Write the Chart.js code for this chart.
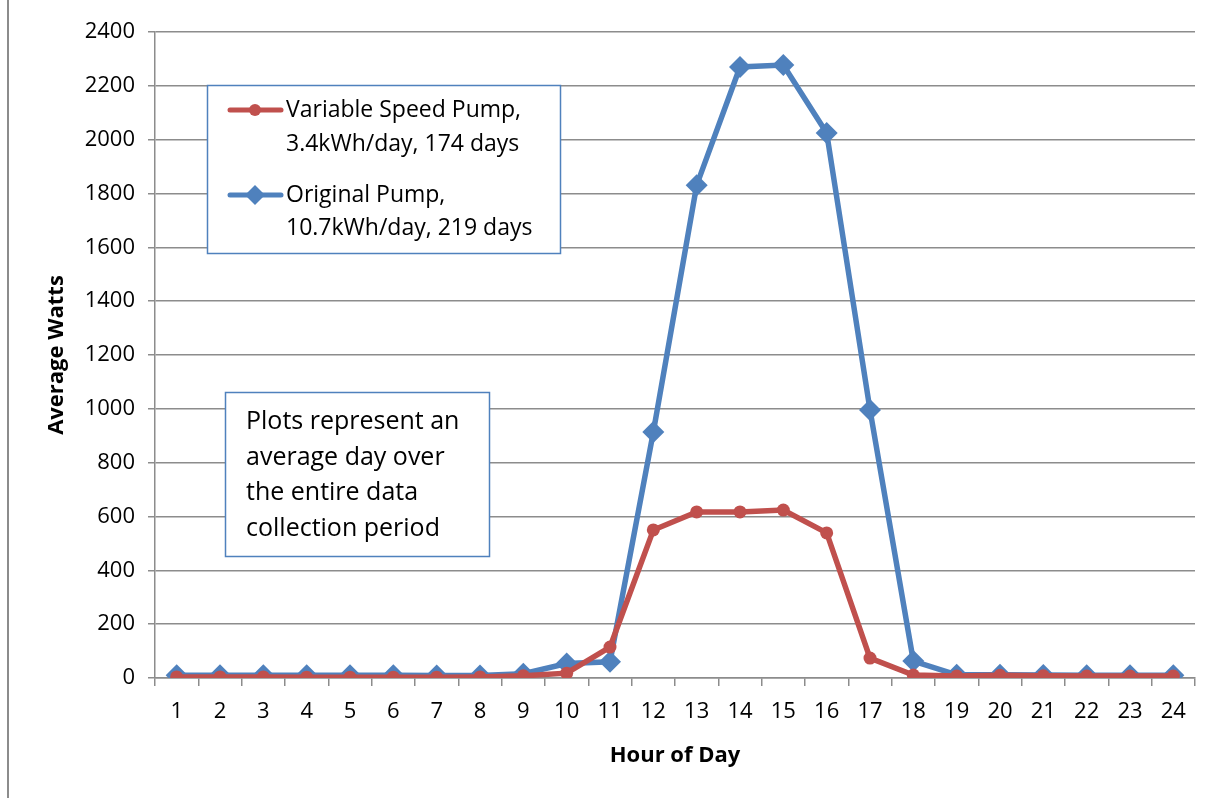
<!DOCTYPE html>
<html>
<head>
<meta charset="utf-8">
<script src="https://cdn.jsdelivr.net/npm/chart.js@4/dist/chart.umd.min.js"></script>
<style>
  html, body { margin: 0; padding: 0; background: #fff; }
  #wrap { position: relative; width: 1217px; height: 798px; }
  #frame { position: absolute; left: 7px; top: -2px; width: 1300px; height: 1000px; border: 2px solid #8c8c8c; box-sizing: border-box; pointer-events: none; }
</style>
</head>
<body>
<div id="wrap">
  <canvas id="bombas" width="1217" height="798"></canvas>
  <div id="frame"></div>
</div>
<script>
// Datos
const horas = ['1','2','3','4','5','6','7','8','9','10','11','12','13','14','15','16','17','18','19','20','21','22','23','24'];
const variableSpeed = [4, 4, 4, 3, 3, 3, 3, 4, 8, 18, 115, 550, 617, 617, 624, 539, 74, 11, 7, 10, 8, 7, 7, 7];
const originalPump = [10, 10, 10, 10, 10, 10, 9, 9, 16, 54, 60, 914, 1831, 2270, 2277, 2025, 996, 63, 12, 12, 11, 10, 10, 10];
const ticksY = [0, 200, 400, 600, 800, 1000, 1200, 1400, 1600, 1800, 2000, 2200, 2400];

const nombreVariable = ['Variable Speed Pump,', '3.4kWh/day, 174 days'];
const nombreOriginal = ['Original Pump,', '10.7kWh/day, 219 days'];
const notaTexto = ['Plots represent an', 'average day over', 'the entire data', 'collection period'];

const ROJO = '#C0504D';
const AZUL = '#4F81BD';
const FUENTE = '"Open Sans", "Noto Sans", sans-serif';

// Leyenda y nota dibujadas dentro del área del gráfico
const cajasPlugin = {
    id: 'cajas',
    afterDraw(chart) {
        const ctx = chart.ctx;
        ctx.save();
        // caja de leyenda
        ctx.fillStyle = '#fff';
        ctx.fillRect(207, 85, 353, 168);
        ctx.strokeStyle = AZUL;
        ctx.lineWidth = 1.5;
        ctx.strokeRect(207.5, 85.5, 353, 168);

        ctx.font = '23px ' + FUENTE;
        ctx.textBaseline = 'middle';

        // marcador rojo
        ctx.strokeStyle = ROJO;
        ctx.lineWidth = 5;
        ctx.lineCap = 'round';
        ctx.beginPath(); ctx.moveTo(230, 110); ctx.lineTo(281, 110); ctx.stroke();
        ctx.fillStyle = ROJO;
        ctx.beginPath(); ctx.arc(255, 110, 6, 0, Math.PI * 2); ctx.fill();

        // marcador azul
        ctx.strokeStyle = AZUL;
        ctx.beginPath(); ctx.moveTo(230, 195); ctx.lineTo(281, 195); ctx.stroke();
        ctx.fillStyle = AZUL;
        ctx.beginPath();
        ctx.moveTo(255, 185); ctx.lineTo(265, 195); ctx.lineTo(255, 205); ctx.lineTo(245, 195);
        ctx.closePath(); ctx.fill();

        ctx.fillStyle = '#000';
        ctx.fillText(nombreVariable[0], 286, 110);
        ctx.fillText(nombreVariable[1], 286, 144);
        ctx.fillText(nombreOriginal[0], 286, 195);
        ctx.fillText(nombreOriginal[1], 286, 228);

        // caja de nota
        ctx.fillStyle = '#fff';
        ctx.fillRect(225, 392, 264, 164);
        ctx.strokeStyle = AZUL;
        ctx.lineWidth = 1.5;
        ctx.strokeRect(225.5, 392.5, 264, 164);
        ctx.fillStyle = '#000';
        ctx.font = '25px ' + FUENTE;
        notaTexto.forEach(function(linea, i) {
            ctx.fillText(linea, 246, 422 + i * 35.5);
        });
        ctx.restore();
    }
};

document.addEventListener('DOMContentLoaded', function() {
    const ctx = document.getElementById('bombas').getContext('2d');
    new Chart(ctx, {
        type: 'line',
        data: {
            labels: horas,
            datasets: [{
                label: nombreVariable.join(' '),
                data: variableSpeed,
                borderColor: ROJO,
                backgroundColor: ROJO,
                borderWidth: 5.5,
                pointStyle: 'circle',
                pointRadius: 6.5,
                pointBorderWidth: 0,
                tension: 0
            }, {
                label: nombreOriginal.join(' '),
                data: originalPump,
                borderColor: AZUL,
                backgroundColor: AZUL,
                borderWidth: 5.5,
                pointStyle: 'rectRot',
                pointRadius: 11,
                pointBorderWidth: 0,
                tension: 0
            }]
        },
        options: {
            responsive: false,
            animation: false,
            layout: { padding: { top: 32, right: 22, left: 0, bottom: 0 } },
            plugins: {
                legend: { display: false },
                tooltip: { enabled: false }
            },
            scales: {
                x: {
                    offset: true,
                    afterFit: function(scale) { scale.height = 120; },
                    grid: {
                        offset: true,
                        drawOnChartArea: false,
                        drawTicks: true,
                        tickLength: 8,
                        color: '#8c8c8c',
                        lineWidth: 1.5
                    },
                    border: { color: '#8c8c8c', width: 1.5 },
                    ticks: {
                        color: '#000',
                        font: { family: FUENTE, size: 22 },
                        padding: 13,
                        maxRotation: 0,
                        autoSkip: false
                    },
                    title: {
                        display: true,
                        text: 'Hour of Day',
                        color: '#000',
                        font: { family: FUENTE, size: 22, weight: 'bold' },
                        padding: { top: 0, bottom: 29 }
                    }
                },
                y: {
                    min: 0,
                    max: 2400,
                    afterFit: function(scale) { scale.width = 155; },
                    afterBuildTicks: function(scale) {
                        scale.ticks = ticksY.map(function(v) { return { value: v }; });
                    },
                    grid: {
                        color: '#8c8c8c',
                        lineWidth: 1.5,
                        drawTicks: true,
                        tickLength: 7
                    },
                    border: { color: '#8c8c8c', width: 1.5 },
                    ticks: {
                        color: '#000',
                        font: { family: FUENTE, size: 22 },
                        padding: 13,
                        callback: function(v) { return String(v); }
                    },
                    title: {
                        display: true,
                        text: 'Average Watts',
                        color: '#000',
                        font: { family: FUENTE, size: 22, weight: 'bold' },
                        padding: { top: 44, bottom: 0 }
                    }
                }
            }
        },
        plugins: [cajasPlugin]
    });
});
</script>
</body>
</html>
